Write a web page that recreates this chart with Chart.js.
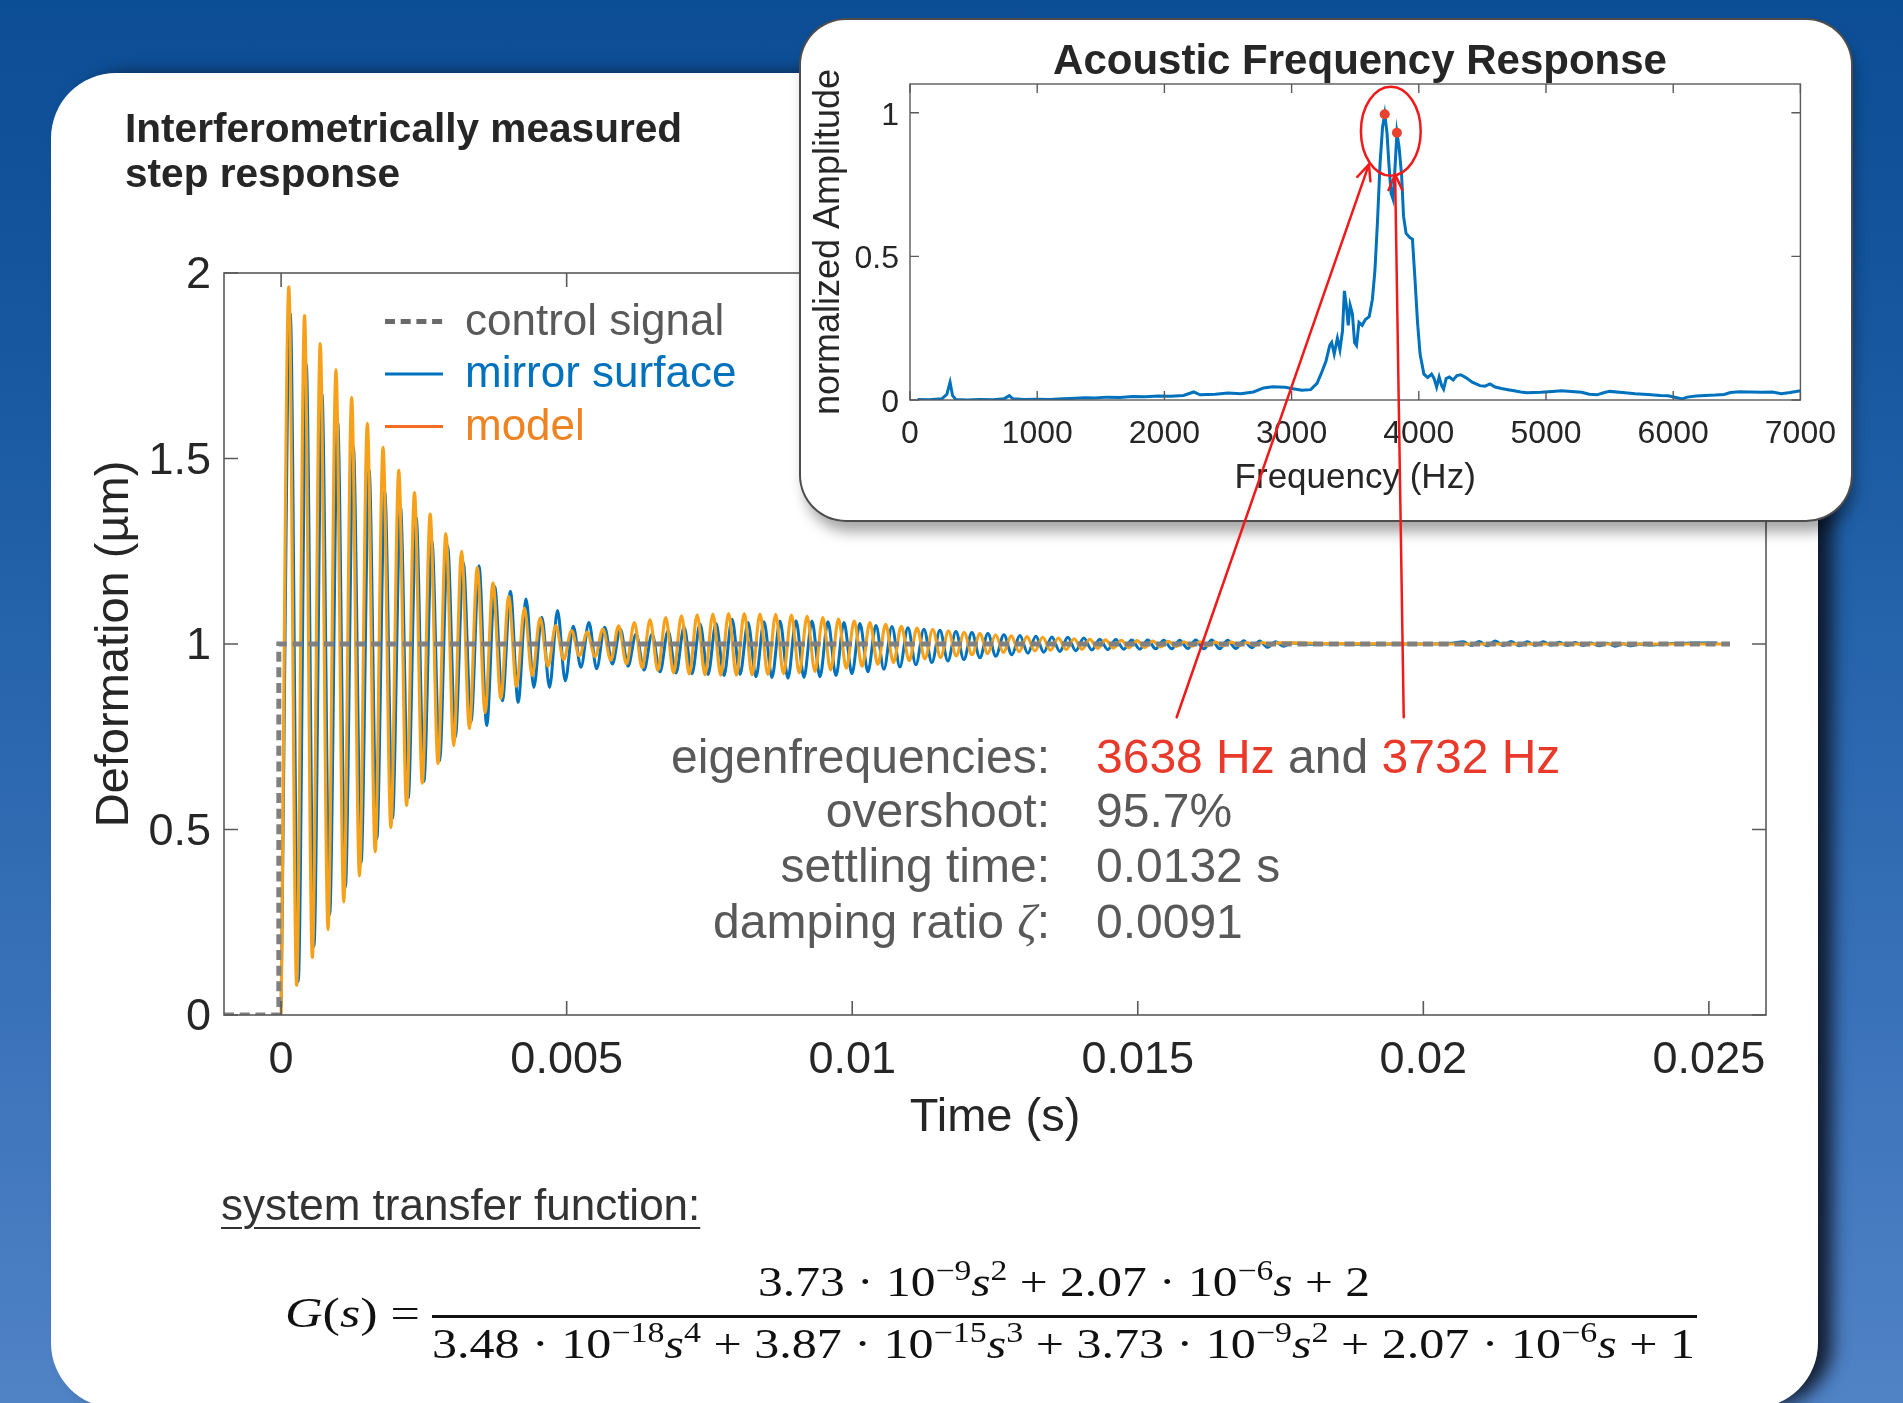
<!DOCTYPE html>
<html>
<head>
<meta charset="utf-8">
<script src="https://cdn.jsdelivr.net/npm/chart.js@4.4.1/dist/chart.umd.min.js"></script>
<style>
html,body{margin:0;padding:0;width:1903px;height:1403px;overflow:hidden;}
body{position:relative;font-family:'Liberation Sans',Arial,sans-serif;
  background:linear-gradient(180deg,#0c4e96 0%,#13549d 18%,#2563aa 45%,#3a72b9 72%,#5083c6 100%);}
#panel{position:absolute;left:51px;top:73px;width:1767px;height:1335px;background:#fff;border-radius:65px;
  box-shadow:16px 0 18px -2px rgba(12,18,32,0.9);z-index:0;}
#mainCanvas{position:absolute;left:0;top:0;z-index:1;}
.txt{position:absolute;white-space:nowrap;z-index:2;}
#title{left:125px;top:106.3px;font-weight:bold;font-size:40.6px;line-height:45px;color:#262626;}
#tfLabel{left:221px;top:1182.8px;font-size:44px;line-height:44px;color:#333;text-decoration:underline;text-decoration-thickness:2px;text-underline-offset:7px;}
.math{font-family:'Liberation Serif','DejaVu Serif',serif;font-size:42px;line-height:42px;color:#111;}
.math sup{font-size:0.68em;line-height:0;vertical-align:0.55em;}
#gs{left:285px;top:1291.8px;}
#num{left:758px;top:1260.8px;}
#den{left:432px;top:1322.8px;}
#bar{position:absolute;left:432px;top:1315px;width:1265px;height:3px;background:#111;z-index:2;}
#inset{position:absolute;left:801px;top:20px;width:1050px;height:500px;background:#fff;border-radius:45px;
  box-shadow:0 0 0 2px #4d4d4d, 4px 12px 14px rgba(0,0,0,0.35);z-index:3;}
#insetCanvas{position:absolute;left:0;top:0;}
#insetTitle{position:absolute;left:0;top:19.4px;width:1118px;text-align:center;font-weight:bold;font-size:42px;line-height:42px;color:#262626;white-space:nowrap;}
#overlay{position:absolute;left:0;top:0;z-index:4;pointer-events:none;}
</style>
</head>
<body>
<div id="panel"></div>
<canvas id="mainCanvas" width="1903" height="1403"></canvas>
<div class="txt" id="title">Interferometrically measured<br>step response</div>
<div class="txt" id="tfLabel">system transfer function:</div>
<div class="txt math" id="gs"><i>G</i>(<i>s</i>) =</div>
<div class="txt math" id="num">3.73 · 10<sup>−9</sup><i>s</i><sup>2</sup> + 2.07 · 10<sup>−6</sup><i>s</i> + 2</div>
<div id="bar"></div>
<div class="txt math" id="den">3.48 · 10<sup>−18</sup><i>s</i><sup>4</sup> + 3.87 · 10<sup>−15</sup><i>s</i><sup>3</sup> + 3.73 · 10<sup>−9</sup><i>s</i><sup>2</sup> + 2.07 · 10<sup>−6</sup><i>s</i> + 1</div>
<div id="inset">
  <canvas id="insetCanvas" width="1050" height="500"></canvas>
  <div id="insetTitle">Acoustic Frequency Response</div>
</div>
<canvas id="overlay" width="1903" height="1403"></canvas>
<script>
// ---------------- DATA ----------------
// Step response: time in microseconds, deformation in µm
const controlTime  = [-1000, -40, -40, 25370];
const controlValue = [0, 0, 1, 1];

const modelTime = [
  0,135,272,410,547,685,822,960,1097,1235,
  1372,1510,1647,1785,1922,2060,2197,2335,2472,2610,
  2747,2885,3022,3160,3297,3435,3572,3710,3847,3985,
  4122,4260,4397,4535,4672,4810,4947,5085,5222,5360,
  5497,5635,5772,5910,6047,6185,6322,6460,6597,6735,
  6872,7010,7147,7285,7422,7560,7697,7835,7972,8110,
  8247,8385,8522,8660,8797,8935,9072,9210,9347,9485,
  9622,9760,9897,10035,10172,10310,10447,10585,10722,10860,
  10997,11135,11272,11410,11547,11685,11822,11960,12097,12235,
  12372,12510,12647,12785,12922,13060,13197,13335,13472,13610,
  13747,13885,14022,14160,14297,14435,14572,14710,14847,14985,
  15122,15260,15397,15535,15672,15810,15947,16085,16222,16360,
  16497,16635,16772,16910,17047,17185,17322,17460,18500,20000,
  22000,24000,25300];
const modelValue = [
  0,1.963,0.08,1.885,0.155,1.81,0.23,1.74,0.305,1.665,
  0.375,1.595,0.44,1.53,0.505,1.468,0.565,1.408,0.625,1.35,
  0.678,1.298,0.726,1.25,0.772,1.207,0.815,1.165,0.853,1.128,
  0.886,1.097,0.915,1.07,0.94,1.05,0.958,1.036,0.968,1.032,
  0.966,1.04,0.956,1.049,0.946,1.058,0.936,1.065,0.929,1.071,
  0.922,1.076,0.919,1.079,0.917,1.081,0.916,1.082,0.916,1.082,
  0.917,1.081,0.918,1.08,0.92,1.078,0.922,1.075,0.926,1.071,
  0.93,1.067,0.935,1.062,0.94,1.058,0.945,1.053,0.95,1.048,
  0.955,1.043,0.96,1.039,0.964,1.035,0.968,1.031,0.971,1.028,
  0.974,1.025,0.977,1.022,0.979,1.02,0.981,1.018,0.983,1.016,
  0.985,1.014,0.986,1.013,0.988,1.011,0.989,1.01,0.99,1.009,
  0.991,1.008,0.992,1.007,0.993,1.006,0.994,1.006,0.995,1.005,
  0.995,1.005,0.996,1.004,0.996,1.004,0.997,1.003,1.001,1.0,
  1.0,1.0,1.0];

const mirrorTime = [
  0,160,300,440,575,715,850,990,1125,1265,
  1400,1540,1675,1815,1950,2090,2225,2365,2500,2640,
  2775,2915,3050,3190,3325,3465,3600,3740,3875,4015,
  4150,4290,4425,4565,4700,4840,4975,5115,5250,5390,
  5525,5665,5800,5940,6075,6215,6355,6495,6635,6775,
  6915,7055,7195,7335,7475,7615,7755,7895,8035,8175,
  8315,8455,8595,8735,8875,9015,9155,9295,9435,9575,
  9715,9855,9995,10135,10275,10415,10555,10695,10835,10975,
  11115,11255,11395,11535,11675,11815,11955,12095,12235,12375,
  12515,12655,12795,12935,13075,13215,13355,13495,13635,13775,
  13915,14055,14195,14335,14475,14615,14755,14895,15035,15175,
  15315,15455,15595,15735,15875,16015,16155,16295,16435,16575,
  16715,16855,16995,17135,17275,17415,17555,17695,18000,18500,
  19000,19500,20000,20500,20700,20840,20980,21120,21260,21400,
  21540,21680,21820,21960,22100,22240,22380,22520,22660,22800,
  22940,23080,23220,23360,23500,23640,23780,24000,24300,24600,
  24900,25150];
const mirrorValue = [
  0.02,1.89,0.09,1.755,0.185,1.675,0.27,1.60,0.345,1.53,
  0.41,1.47,0.475,1.41,0.53,1.37,0.585,1.34,0.63,1.279,
  0.685,1.265,0.748,1.22,0.79,1.211,0.78,1.155,0.847,1.142,
  0.843,1.121,0.883,1.072,0.883,1.09,0.901,1.048,0.937,1.058,
  0.933,1.045,0.946,1.04,0.94,1.027,0.93,1.027,0.925,1.036,
  0.922,1.045,0.92,1.054,0.918,1.055,0.915,1.067,0.918,1.058,
  0.912,1.06,0.91,1.062,0.908,1.063,0.91,1.062,0.912,1.06,
  0.915,1.058,0.92,1.055,0.925,1.05,0.932,1.047,0.938,1.044,
  0.944,1.04,0.95,1.037,0.954,1.034,0.958,1.031,0.963,1.028,
  0.967,1.025,0.971,1.023,0.975,1.021,0.978,1.019,0.98,1.018,
  0.982,1.016,0.984,1.013,0.985,1.012,0.986,1.011,0.986,1.011,
  0.987,1.01,0.987,1.01,0.988,1.011,0.987,1.011,0.987,1.01,
  0.988,1.009,0.99,1.008,0.991,1.006,0.994,1.003,0.999,1.001,
  0.999,1.0,1.0,1.002,1.006,0.996,1.007,0.995,1.008,0.996,
  1.007,0.995,1.006,0.996,1.006,0.997,1.005,0.996,1.004,0.996,
  1.003,0.995,1.002,0.994,1.001,0.995,1.0,0.997,1.001,1.002,
  1.003,1.003];

// Acoustic frequency response: frequency in Hz, normalized amplitude
const spectrumFreq = [
  60,150,250,290,315,335,360,450,550,650,
  740,780,810,900,1000,1100,1200,1300,1375,1450,
  1550,1650,1750,1850,1950,2050,2150,2230,2280,2400,
  2500,2600,2700,2780,2850,2950,3000,3080,3150,3200,
  3240,3270,3300,3315,3335,3360,3380,3400,3415,3430,
  3445,3460,3478,3495,3510,3530,3555,3580,3610,3635,
  3655,3675,3695,3715,3732,3750,3765,3782,3797,3812,
  3828,3845,3865,3880,3900,3930,3950,3970,3990,4010,
  4040,4070,4100,4120,4140,4160,4180,4195,4215,4240,
  4270,4300,4330,4370,4420,4480,4520,4560,4600,4650,
  4700,4750,4800,4850,4900,4960,5050,5120,5200,5280,
  5340,5400,5460,5500,5600,5700,5800,5900,5960,6030,
  6070,6110,6180,6250,6330,6400,6450,6520,6600,6700,
  6780,6850,6920,7000];
const spectrumAmp = [
  0.002,0.001,0.004,0.02,0.062,0.015,0.002,0.0,0.002,0.001,
  0.004,0.015,0.004,0.002,0.003,0.002,0.004,0.006,0.008,0.007,
  0.01,0.009,0.012,0.011,0.014,0.013,0.016,0.028,0.018,0.02,
  0.024,0.022,0.028,0.042,0.046,0.044,0.04,0.034,0.036,0.058,
  0.1,0.135,0.19,0.2,0.16,0.215,0.175,0.24,0.38,0.33,
  0.26,0.33,0.3,0.2,0.19,0.27,0.26,0.28,0.29,0.35,
  0.45,0.62,0.82,0.95,0.995,0.93,0.82,0.72,0.70,0.8,
  0.93,0.88,0.78,0.64,0.58,0.565,0.56,0.42,0.27,0.16,
  0.09,0.078,0.09,0.075,0.045,0.08,0.05,0.038,0.075,0.08,
  0.07,0.085,0.088,0.078,0.062,0.05,0.048,0.056,0.045,0.04,
  0.036,0.032,0.028,0.025,0.026,0.027,0.03,0.032,0.03,0.027,
  0.02,0.018,0.026,0.03,0.026,0.022,0.019,0.016,0.015,0.008,
  0.004,0.01,0.014,0.016,0.017,0.019,0.026,0.029,0.028,0.027,
  0.028,0.022,0.026,0.032];
const peakFreq = [3732, 3828];
const peakAmp  = [0.995, 0.93];

// Tick values / labels
const xTickValues = [0, 0.005, 0.01, 0.015, 0.02, 0.025];
const xTickLabels = ['0', '0.005', '0.01', '0.015', '0.02', '0.025'];
const yTickValues = [0, 0.5, 1, 1.5, 2];
const yTickLabels = ['0', '0.5', '1', '1.5', '2'];
const fTickValues = [0, 1000, 2000, 3000, 4000, 5000, 6000, 7000];
const fTickLabels = ['0', '1000', '2000', '3000', '4000', '5000', '6000', '7000'];
const aTickValues = [0, 0.5, 1];
const aTickLabels = ['0', '0.5', '1'];

// Text content
const statLabels = ['eigenfrequencies:', 'overshoot:', 'settling time:', 'damping ratio ζ:'];
const eigenFreqs = ['3638 Hz', '3732 Hz'];
const statValues = [null, '95.7%', '0.0132 s', '0.0091'];

// Annotation anchors (data coordinates)
const arrowStart = [[0.015681, 0.8026], [0.019657, 0.8026]];   // main chart (s, µm)
const arrowEnd   = [[3608, 0.82], [3814, 0.785]];              // inset (Hz, amplitude)
const peakEllipse = {f: 3780, a: 0.9355, df: 235, da: 0.155};

// ---------------- BUILD ----------------
Chart.defaults.font.family = "'Liberation Sans', Arial, sans-serif";
Chart.defaults.color = '#262626';
const pts = (ts, vs, k) => ts.map((t, i) => ({x: t * k, y: vs[i]}));
const controlData = pts(controlTime, controlValue, 1e-6);
const modelData = pts(modelTime, modelValue, 1e-6);
const mirrorData = pts(mirrorTime, mirrorValue, 1e-6);
const spectrumData = pts(spectrumFreq, spectrumAmp, 1);
const peakData = pts(peakFreq, peakAmp, 1);

const boxPlugin = {
  id: 'box',
  afterDatasetsDraw(chart, args, o) {
    const {ctx, chartArea: {left, right, top, bottom}, scales: {x, y}} = chart;
    ctx.save();
    ctx.strokeStyle = o.color; ctx.lineWidth = o.width; ctx.setLineDash([]);
    ctx.strokeRect(left, top, right - left, bottom - top);
    ctx.beginPath();
    x.ticks.forEach(t => {
      const p = x.getPixelForValue(t.value);
      ctx.moveTo(p, bottom); ctx.lineTo(p, bottom - o.len);
      ctx.moveTo(p, top); ctx.lineTo(p, top + o.len);
    });
    y.ticks.forEach(t => {
      const p = y.getPixelForValue(t.value);
      ctx.moveTo(left, p); ctx.lineTo(left + o.len, p);
      ctx.moveTo(right, p); ctx.lineTo(right - o.len, p);
    });
    ctx.stroke();
    ctx.restore();
  }
};

const legendPlugin = {
  id: 'insideLegend',
  afterDatasetsDraw(chart, args, o) {
    if (!o.order) return;
    const {ctx, chartArea: {left, top}} = chart;
    ctx.save();
    ctx.font = o.font;
    ctx.textBaseline = 'alphabetic';
    o.order.forEach((idx, row) => {
      const ds = chart.data.datasets[idx];
      const base = top + o.baseline0 + row * o.rowGap;
      const ly = base - o.lineRaise;
      ctx.strokeStyle = o.sampleColors[row];
      ctx.lineWidth = o.sampleWidths[row];
      ctx.setLineDash(o.sampleDash[row]);
      ctx.beginPath(); ctx.moveTo(left + o.sampleX0, ly); ctx.lineTo(left + o.sampleX1, ly); ctx.stroke();
      ctx.setLineDash([]);
      ctx.fillStyle = o.textColors[row];
      ctx.fillText(ds.label, left + o.textX, base);
    });
    ctx.restore();
  }
};

const statsPlugin = {
  id: 'stats',
  afterDatasetsDraw(chart, args, o) {
    if (!o.labelRight) return;
    const ctx = chart.ctx;
    ctx.save();
    ctx.textBaseline = 'alphabetic';
    const sans = o.size + "px 'Liberation Sans', Arial, sans-serif";
    const serif = 'italic ' + o.size + "px 'Liberation Serif', 'DejaVu Serif', serif";
    statLabels.forEach((lab, i) => {
      const y = o.baselines[i];
      const parts = lab.split('ζ');
      const segs = [];
      parts.forEach((p, j) => { segs.push([p, sans]); if (j < parts.length - 1) segs.push(['ζ', serif]); });
      let w = 0;
      segs.forEach(s => { ctx.font = s[1]; w += ctx.measureText(s[0]).width; });
      let x = o.labelRight - w;
      ctx.fillStyle = o.color;
      segs.forEach(s => { ctx.font = s[1]; ctx.fillText(s[0], x, y); x += ctx.measureText(s[0]).width; });
      ctx.font = sans;
      x = o.valueLeft;
      if (statValues[i] === null) {
        const vs = [[eigenFreqs[0], o.red], [' and ', o.color], [eigenFreqs[1], o.red]];
        vs.forEach(v => { ctx.fillStyle = v[1]; ctx.fillText(v[0], x, y); x += ctx.measureText(v[0]).width; });
      } else {
        ctx.fillStyle = o.color; ctx.fillText(statValues[i], x, y);
      }
    });
    ctx.restore();
  }
};

// Chart.js draws the first dataset on top: control signal, then model, then mirror surface underneath.
const mainChart = new Chart(document.getElementById('mainCanvas'), {
  type: 'line',
  data: {
    datasets: [
      {label: 'control signal', data: controlData, borderColor: '#808080', borderWidth: 5,
       borderDash: [10, 5.7], pointRadius: 0, tension: 0},
      {label: 'model', data: modelData, borderColor: '#F7A11A', borderWidth: 3.1,
       pointRadius: 0, cubicInterpolationMode: 'monotone'},
      {label: 'mirror surface', data: mirrorData, borderColor: '#0072BD', borderWidth: 3,
       pointRadius: 0, cubicInterpolationMode: 'monotone'}
    ]
  },
  options: {
    responsive: false, animation: false, devicePixelRatio: 1,
    layout: {padding: {left: 0, top: 273, right: 137, bottom: 248}, autoPadding: false},
    events: [],
    plugins: {
      legend: {display: false}, tooltip: {enabled: false}, title: {display: false},
      box: {color: '#5a5a5a', width: 1.6, len: 14},
      insideLegend: {
        order: [0, 2, 1], font: "44px 'Liberation Sans', Arial, sans-serif",
        baseline0: 61.5, rowGap: 52.5, lineRaise: 13,
        sampleX0: 161, sampleX1: 219, textX: 241,
        sampleColors: ['#6a6a6a', '#0072BD', '#F26D21'], sampleWidths: [5, 3, 3],
        sampleDash: [[10, 5.7], [], []],
        textColors: ['#595959', '#0072BD', '#EE8322']
      },
      stats: {labelRight: 1050, valueLeft: 1096, baselines: [773, 827, 882, 938], size: 48,
              color: '#595959', red: '#E8392B'}
    },
    scales: {
      x: {
        type: 'linear', min: -0.001, max: 0.026,
        grid: {display: false, drawTicks: false}, border: {display: false},
        ticks: {font: {size: 45}, color: '#262626', padding: 19, maxRotation: 0, autoSkip: false,
                callback: (v, i) => xTickLabels[i]},
        title: {display: true, text: 'Time (s)', font: {size: 47}, color: '#262626', padding: {top: 0, bottom: 9}},
        afterBuildTicks: s => { s.ticks = xTickValues.map(v => ({value: v})); },
        afterFit: s => { s.height = 140; }
      },
      y: {
        type: 'linear', min: 0, max: 2,
        grid: {display: false, drawTicks: false}, border: {display: false},
        ticks: {font: {size: 45}, color: '#262626', padding: 13, autoSkip: false, labelOffset: 3,
                callback: (v, i) => yTickLabels[i]},
        title: {display: true, text: 'Deformation (µm)', font: {size: 47}, color: '#262626', padding: {top: 87, bottom: 0}},
        afterBuildTicks: s => { s.ticks = yTickValues.map(v => ({value: v})); },
        afterFit: s => { s.width = 224; }
      }
    }
  },
  plugins: [boxPlugin, legendPlugin, statsPlugin]
});

const insetChart = new Chart(document.getElementById('insetCanvas'), {
  type: 'line',
  data: {
    datasets: [
      {label: 'eigenfrequency peaks', data: peakData, showLine: false, pointRadius: 5,
       pointBackgroundColor: '#E8432E', pointBorderWidth: 0, borderColor: '#E8432E'},
      {label: 'spectrum', data: spectrumData, borderColor: '#0072BD', borderWidth: 3, pointRadius: 0, tension: 0}
    ]
  },
  options: {
    responsive: false, animation: false, devicePixelRatio: 1, events: [],
    layout: {padding: {left: 0, top: 64, right: 46, bottom: 0}, autoPadding: false},
    plugins: {legend: {display: false}, tooltip: {enabled: false},
              box: {color: '#5a5a5a', width: 1.4, len: 9}},
    scales: {
      x: {
        type: 'linear', min: 0, max: 7000,
        grid: {display: false, drawTicks: false}, border: {display: false},
        ticks: {font: {size: 32}, color: '#262626', padding: 15, maxRotation: 0, autoSkip: false,
                callback: (v, i) => fTickLabels[i]},
        title: {display: true, text: 'Frequency (Hz)', font: {size: 35}, color: '#262626', padding: {top: 0, bottom: 21}},
        afterBuildTicks: s => { s.ticks = fTickValues.map(v => ({value: v})); },
        afterFit: s => { s.height = 120; }
      },
      y: {
        type: 'linear', min: 0, max: 1.1,
        grid: {display: false, drawTicks: false}, border: {display: false},
        ticks: {font: {size: 32}, color: '#262626', padding: 11, autoSkip: false, labelOffset: 3,
                callback: (v, i) => aTickLabels[i]},
        title: {display: true, text: 'normalized Amplitude', font: {size: 36}, color: '#262626', padding: {top: 6, bottom: 0}},
        afterBuildTicks: s => { s.ticks = aTickValues.map(v => ({value: v})); },
        afterFit: s => { s.width = 109; }
      }
    }
  },
  plugins: [boxPlugin]
});

// ---------------- Red annotation (links inset peaks to the text) ----------------
function drawAnnotations() {
  const ctx = document.getElementById('overlay').getContext('2d');
  const inset = document.getElementById('inset');
  const ox = inset.offsetLeft, oy = inset.offsetTop;
  const mx = mainChart.scales.x, my = mainChart.scales.y;
  const ix = insetChart.scales.x, iy = insetChart.scales.y;
  ctx.strokeStyle = '#F01A1A';
  ctx.lineWidth = 2.5;
  ctx.lineCap = 'round';
  arrowStart.forEach((s, i) => {
    const x0 = mx.getPixelForValue(s[0]), y0 = my.getPixelForValue(s[1]);
    const x1 = ox + ix.getPixelForValue(arrowEnd[i][0]), y1 = oy + iy.getPixelForValue(arrowEnd[i][1]);
    ctx.beginPath(); ctx.moveTo(x0, y0); ctx.lineTo(x1, y1); ctx.stroke();
    const ang = Math.atan2(y1 - y0, x1 - x0);
    const L = 17, spread = 0.42;
    ctx.beginPath();
    ctx.moveTo(x1 - L * Math.cos(ang - spread), y1 - L * Math.sin(ang - spread));
    ctx.lineTo(x1, y1);
    ctx.lineTo(x1 - L * Math.cos(ang + spread), y1 - L * Math.sin(ang + spread));
    ctx.stroke();
  });
  const cx = ox + ix.getPixelForValue(peakEllipse.f), cy = oy + iy.getPixelForValue(peakEllipse.a);
  const rx = Math.abs(ix.getPixelForValue(peakEllipse.f + peakEllipse.df) - ix.getPixelForValue(peakEllipse.f));
  const ry = Math.abs(iy.getPixelForValue(peakEllipse.a + peakEllipse.da) - iy.getPixelForValue(peakEllipse.a));
  ctx.beginPath(); ctx.ellipse(cx, cy, rx, ry, 0, 0, Math.PI * 2); ctx.stroke();
}
drawAnnotations();

// ---------------- Fit formula widths ----------------
function fit(id, width, centerX) {
  const el = document.getElementById(id);
  const w = el.getBoundingClientRect().width;
  el.style.transformOrigin = 'left top';
  el.style.transform = 'scaleX(' + (width / w) + ')';
  if (centerX !== undefined) el.style.left = (centerX - width / 2) + 'px';
}
function fitAll() {
  document.getElementById('gs').style.transform = '';
  document.getElementById('num').style.transform = '';
  document.getElementById('den').style.transform = '';
  fit('gs', 135);
  fit('num', 612, 1064);
  fit('den', 1263);
}
fitAll();
if (document.fonts && document.fonts.ready) document.fonts.ready.then(fitAll);
</script>
</body>
</html>
